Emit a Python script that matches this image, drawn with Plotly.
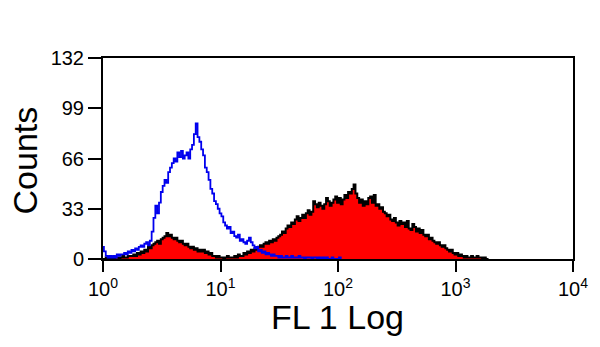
import plotly.graph_objects as go

# Histogram channel counts (64 channels per decade, channel i centred at 10**(i/64))
CH_PER_DECADE = 64

blue_counts = [
    8, 5,
    2, 1, 2, 1, 2, 1, 3, 2, 3,
    3, 4, 3, 5, 4, 6, 5, 7, 6, 8,
    9, 8, 10, 11, 9, 12,
    18, 27, 35, 30, 37,
    44, 48, 52, 50, 57,
    60, 63, 66, 64,
    70, 67, 71, 66, 68, 70,
    66, 72, 75, 82,
    89, 80, 77,
    72, 68, 60, 57,
    52, 46, 43, 38,
    36, 33, 30, 28, 24,
    22, 20, 21, 17, 18, 15,
    14, 16, 12, 13, 11, 10,
    12, 14, 11, 9, 7, 8, 5, 6, 4, 5,
    3, 4, 3, 2, 3, 2, 2, 1,
    2, 1, 1, 2, 1, 1, 2, 1, 1, 1, 2, 1, 1, 0, 1, 1, 1, 0, 1, 1, 0, 1, 0, 1,
    0, 1, 0, 0, 1, 0, 0, 0, 1, 0,
]

red_counts = [
    0, 0, 1, 0, 1, 0, 0, 1, 1, 0, 1, 2, 1, 1, 2, 2,
    2, 3, 2, 4, 3, 5, 4,
    6, 5, 8, 7, 9, 10,
    11, 12, 10, 13, 14, 15,
    17, 15, 16, 14,
    13, 14, 12, 11, 12, 10,
    9, 10, 8, 7, 8, 6, 7, 5,
    6, 5, 6, 4, 5, 3, 4, 2,
    2, 1, 2, 1, 1, 0, 1, 2, 1, 1,
    1, 2, 1, 3, 2, 2, 4, 3,
    5, 4, 6, 5, 7, 6,
    8, 9, 8, 10, 11, 10,
    12, 11, 13, 12, 14, 15,
    16, 18, 17, 20, 22, 21,
    24, 23, 26, 28, 25, 27,
    29, 27, 30, 32, 29, 31,
    38, 36, 34, 37, 35, 33,
    36, 40, 38, 35, 37, 39,
    41, 37, 40, 36, 39, 42,
    40, 44, 43, 46,
    49, 43, 40,
    37, 39, 35, 38, 36, 40,
    41, 37, 42, 35, 36, 33,
    34, 31, 30, 28, 29, 26,
    25, 27, 24, 22, 25, 23,
    24, 21, 25, 20, 19, 23,
    21, 18, 20, 17, 19, 16,
    15, 16, 13, 14, 12, 11,
    10, 11, 9, 8, 9, 7,
    6, 5, 6, 4, 3, 4,
    2, 3, 2, 1, 2, 1,
    1, 2, 1, 1, 2, 1, 1, 0, 1, 0, 0,
]

x_tickvals = [1, 10, 100, 1000, 10000]
x_ticktext = ["10<sup>0</sup>", "10<sup>1</sup>", "10<sup>2</sup>", "10<sup>3</sup>", "10<sup>4</sup>"]
y_tickvals = [0, 33, 66, 99, 132]


def channel_x(n):
    return [10 ** (i / CH_PER_DECADE) for i in range(n)]


FONT = "Liberation Sans, Arial, sans-serif"

fig = go.Figure()
fig.add_trace(go.Scatter(
    x=channel_x(len(red_counts)), y=red_counts, mode="lines",
    line=dict(shape="hvh", color="#000000", width=2),
    fill="tozeroy", fillcolor="#ff0000", hoverinfo="skip",
))
fig.add_trace(go.Scatter(
    x=channel_x(len(blue_counts)), y=blue_counts, mode="lines",
    line=dict(shape="hvh", color="#0000ee", width=1.8), hoverinfo="skip",
))

fig.update_layout(
    width=600, height=347,
    margin=dict(l=103, r=20, t=58, b=88),
    paper_bgcolor="white", plot_bgcolor="white",
    showlegend=False,
    font=dict(family=FONT, color="#000000"),
    xaxis=dict(
        type="log", range=[0, 4],
        tickvals=x_tickvals, ticktext=x_ticktext,
        ticks="outside", ticklen=11, tickwidth=2, tickcolor="#000000",
        showline=True, linewidth=2, linecolor="#000000", mirror=True,
        showgrid=False, zeroline=False,
        tickfont=dict(size=20, family=FONT, color="#000000"),
    ),
    yaxis=dict(
        range=[0, 132],
        tickvals=y_tickvals,
        ticks="outside", ticklen=13, tickwidth=2, tickcolor="#000000",
        showline=True, linewidth=2, linecolor="#000000", mirror=True,
        showgrid=False, zeroline=False,
        tickfont=dict(size=20, family=FONT, color="#000000"),
    ),
    annotations=[
        dict(text="FL 1 Log", xref="paper", yref="paper", x=0.498, y=-0.29,
             xanchor="center", yanchor="middle", showarrow=False,
             font=dict(size=34, family=FONT, color="#000000")),
        dict(text="Counts", xref="paper", yref="paper", x=-0.166, y=0.49,
             xanchor="center", yanchor="middle", showarrow=False, textangle=-90,
             font=dict(size=34, family=FONT, color="#000000")),
    ],
)

fig.write_html("out.html")
